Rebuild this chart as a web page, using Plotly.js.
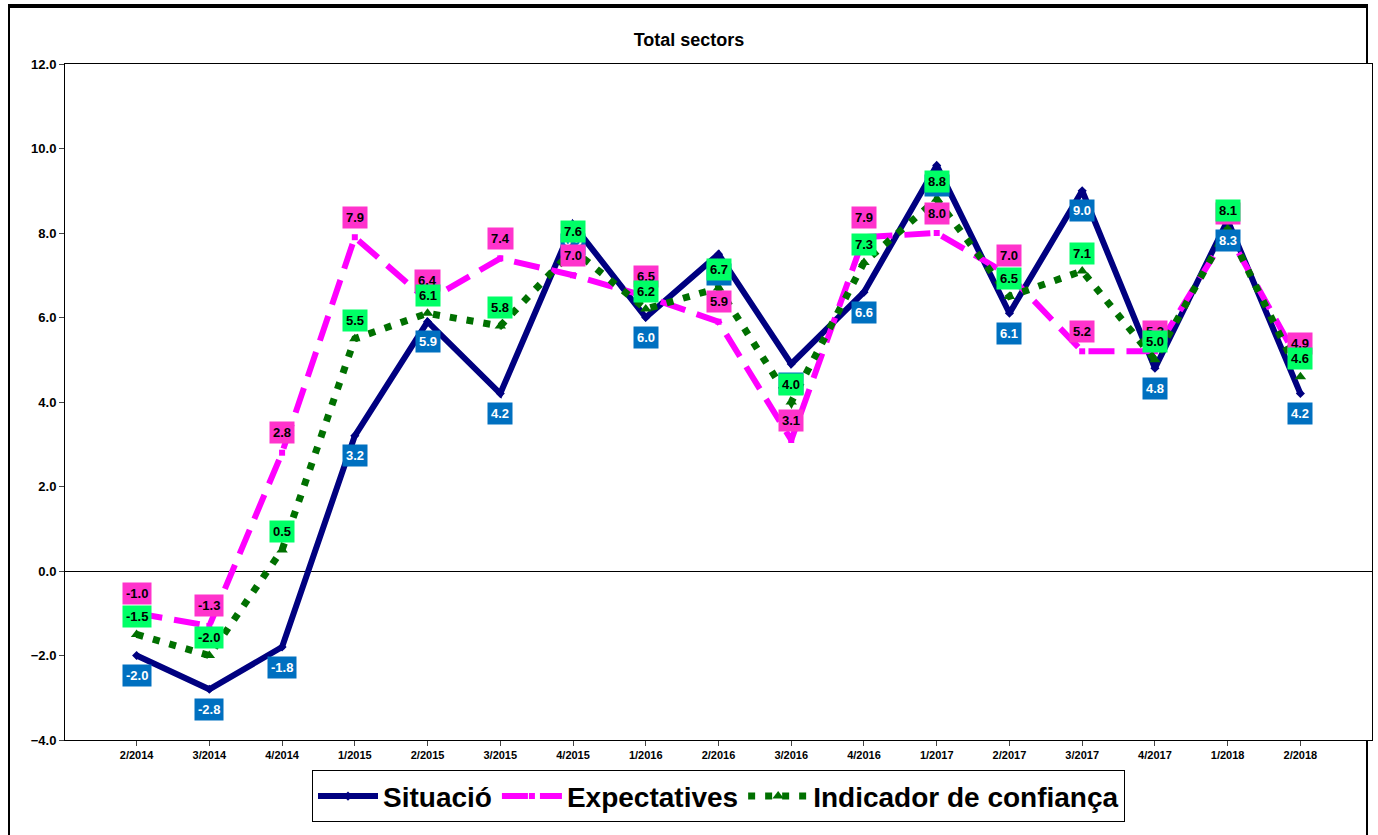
<!DOCTYPE html>
<html><head><meta charset="utf-8">
<script src="https://cdn.plot.ly/plotly-3.0.1.min.js"></script>
<style>html,body{margin:0;padding:0;background:#fff}
#frame{position:absolute;left:8px;top:4px;width:1356px;height:840px;border-top:4px solid #000;border-left:2px solid #000;border-right:2px solid #000}
#chart{position:absolute;left:0;top:0;width:1378px;height:835px}</style>
</head><body><div id="frame"></div><div id="chart"></div>
<script>
const categories=["2/2014","3/2014","4/2014","1/2015","2/2015","3/2015","4/2015","1/2016","2/2016","3/2016","4/2016","1/2017","2/2017","3/2017","4/2017","1/2018","2/2018"];
const situacio=[-2.0,-2.8,-1.8,3.2,5.9,4.2,8.2,6.0,7.5,4.9,6.6,9.6,6.1,9.0,4.8,8.3,4.2];
const expectatives=[-1.0,-1.3,2.8,7.9,6.4,7.4,7.0,6.5,5.9,3.1,7.9,8.0,7.0,5.2,5.2,8.0,4.9];
const indicador=[-1.5,-2.0,0.5,5.5,6.1,5.8,7.6,6.2,6.7,4.0,7.3,8.8,6.5,7.1,5.0,8.1,4.6];
const F="Liberation Sans, Arial, sans-serif";
const traces=[
 {x:categories,y:situacio,name:"Situació",mode:"lines+markers",line:{color:"#000080",width:6},marker:{symbol:"diamond",size:7,color:"#000080"}},
 {x:categories,y:expectatives,name:"Expectatives",mode:"lines+markers",line:{color:"#FF00FF",width:6,dash:"26px,12px"},marker:{symbol:"square",size:6,color:"#FF00FF"}},
 {x:categories,y:indicador,name:"Indicador de confiança",mode:"lines+markers",line:{color:"#007000",width:7,dash:"7px,10px"},marker:{symbol:"triangle-up",size:10,color:"#007000"}}
];
const ann=[];
function lab(vals,bg,fc,ys){vals.forEach((v,i)=>ann.push({x:categories[i],y:v,xref:"x",yref:"y",text:v.toFixed(1),showarrow:false,yshift:ys,bgcolor:bg,font:{family:F,size:13,color:fc,weight:"bold"},borderpad:3}));}
lab(situacio,"#0070C0","#fff",-20);
lab(expectatives,"#FF33CC","#000",20);
lab(indicador,"#00FF66","#000",18);
const layout={width:1378,height:835,margin:{l:65,r:6,t:64,b:95},paper_bgcolor:"rgba(0,0,0,0)",plot_bgcolor:"#fff",
 title:{text:"<b>Total sectors</b>",x:0.5,y:0.952,yanchor:"middle",font:{family:F,size:18,color:"#000"}},
 xaxis:{type:"category",showline:true,linecolor:"#000",mirror:true,linewidth:1,ticks:"outside",ticklen:5,tickfont:{family:F,size:11,color:"#000",weight:"bold"},showgrid:false},
 yaxis:{range:[-4,12],dtick:2,tickformat:".1f",showline:true,linecolor:"#000",mirror:true,linewidth:1,ticks:"outside",ticklen:5,tickfont:{family:F,size:13,color:"#000",weight:"bold"},showgrid:false,zeroline:true,zerolinecolor:"#000",zerolinewidth:1},
 showlegend:true,legend:{orientation:"h",x:0.5,xanchor:"center",y:-0.045,yanchor:"top",bordercolor:"#000",borderwidth:1,font:{family:F,size:28,color:"#000",weight:"bold"},itemwidth:60,entrywidth:0},
 annotations:ann};
Plotly.newPlot("chart",traces,layout,{displayModeBar:false});
</script></body></html>
